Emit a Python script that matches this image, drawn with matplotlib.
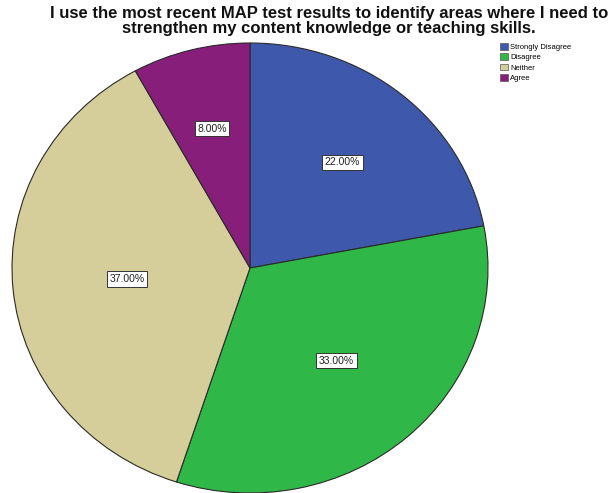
import numpy as np
import matplotlib.pyplot as plt
from matplotlib.patches import Patch

categories = ["Strongly Disagree", "Disagree", "Neither", "Agree"]
percentages = [22.0, 33.0, 37.0, 8.0]
colors = ["#3e58ac", "#2fb848", "#d5cd9a", "#871e7a"]
label_radius = [0.61, 0.55, 0.52, 0.64]

title = ("I use the most recent MAP test results to identify areas where I need to\n"
         "strengthen my content knowledge or teaching skills.")

W, H = 614, 493
fig = plt.figure(figsize=(W / 100, H / 100), dpi=100)
fig.patch.set_facecolor("white")

# pie area: centre (250, 268) px, radii 238 x 225 px
cx, cy, rx, ry = 250, 268, 238, 225
ax = fig.add_axes([(cx - rx) / W, (H - cy - ry) / H, 2 * rx / W, 2 * ry / H])
wedges, _ = ax.pie(percentages, colors=colors, startangle=90, counterclock=False,
                   wedgeprops=dict(edgecolor="#2a2a2a", linewidth=0.8))
ax.set_aspect("auto")
ax.set_xlim(-1, 1)
ax.set_ylim(-1, 1)

# percentage labels in white boxes
start = 90.0
for pct, r in zip(percentages, label_radius):
    mid = np.deg2rad(start - pct * 3.6 / 2)
    ax.text(r * np.cos(mid), r * np.sin(mid), f"{pct:.2f}%",
            ha="center", va="center", fontsize=7.5, family="Liberation Sans",
            color="#222222",
            bbox=dict(boxstyle="square,pad=0.25", fc="white", ec="#333333", lw=0.7))
    start -= pct * 3.6

fig.text(329 / W, 1 - 21 / H, title, ha="center", va="center", fontsize=12,
         fontweight="bold", family="Liberation Sans", linespacing=0.95, color="#111111")

handles = [Patch(facecolor=c, edgecolor="#555555", linewidth=0.5) for c in colors]
fig.legend(handles, categories, loc="upper left", bbox_to_anchor=(500 / W, 1 - 43 / H),
           frameon=False, handlelength=1.0, handleheight=1.0,
           handletextpad=0.3, labelspacing=0.3, borderaxespad=0, borderpad=0,
           prop={"family": "Liberation Sans", "size": 5.5})

fig.savefig("out.png", dpi=100, facecolor="white")
